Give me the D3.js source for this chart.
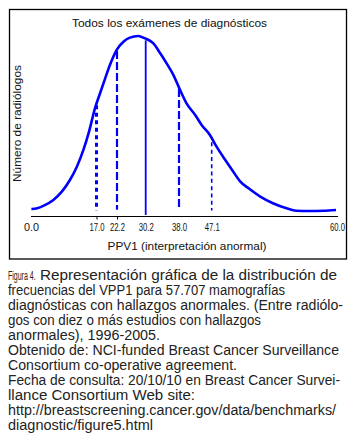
<!DOCTYPE html>
<html><head><meta charset="utf-8">
<script src="https://cdn.jsdelivr.net/npm/d3@7"></script>
<style>body{margin:0;background:#fff} svg{display:block}</style>
</head><body>
<svg id="c" width="355" height="437"></svg>
<script>
// ---- data ----
const ppv   = [0.1, 1.6, 3.2, 5.8, 8.0, 10.1, 11.9, 13.6, 15.1, 16.6, 17.9, 19.2, 20.4, 22.1, 24.0, 25.8, 28.1, 30.0, 32.0, 33.6, 35.1, 36.7, 38.1, 40.1, 42.5, 44.3, 46.6, 47.6, 48.5, 49.2, 50.0, 51.0, 52.1, 53.4, 54.8, 55.8, 57.2, 58.6, 59.9];
const count = [3.9, 4.3, 5.6, 8.9, 13.5, 20.0, 27.4, 36.7, 47.2, 59.8, 68.2, 76.5, 83.9, 92.2, 96.8, 99.1, 100, 98.7, 95.9, 90.4, 84.8, 78.3, 70.9, 62.6, 56.1, 50.6, 45.0, 38.5, 31.1, 25.6, 19.4, 15.0, 10.8, 7.1, 4.3, 2.9, 2.8, 2.9, 3.3];
const percentiles = [17.0, 22.2, 30.2, 38.0, 47.1];
const percentileNames = ["p10", "p25", "p50", "p75", "p90"];
const tickValues = [0.0, 17.0, 22.2, 30.2, 38.0, 47.1, 60.0];
const tickLabels = ["0.0", "17.0", "22.2", "30.2", "38.0", "47.1", "60.0"];
const chartTitle = "Todos los exámenes de diagnósticos";
const xTitle = "PPV1 (interpretación anormal)";
const yTitle = "Número de radiólogos";
const figLabel = "Figura 4.";
const captionLines = [
  "Representación gráfica de la distribución de",
  "frecuencias del VPP1 para 57.707 mamografías",
  "diagnósticas con hallazgos anormales. (Entre radiólo-",
  "gos con diez o más estudios con hallazgos",
  "anormales), 1996-2005.",
  "Obtenido de: NCI-funded Breast Cancer Surveillance",
  "Consortium co-operative agreement.",
  "Fecha de consulta: 20/10/10 en Breast Cancer Survei-",
  "llance Consortium Web site:",
  "http://breastscreening.cancer.gov/data/benchmarks/",
  "diagnostic/figure5.html"
];

// ---- drawing ----
const FONT = "'Liberation Sans', Arial, Helvetica, sans-serif";
const BLUE = "#0000ff";
const svg = d3.select("#c");

// frame
svg.append("rect").attr("x", 9.5).attr("y", 9.5).attr("width", 337).attr("height", 249.5)
  .attr("fill", "none").attr("stroke", "#000").attr("stroke-width", 1.3);

// piecewise axis (the original axis is not linear between labelled percentiles)
const x = d3.scaleLinear().domain(tickValues).range([31, 96.5, 117, 145.7, 179, 211.7, 337]);
const y = d3.scaleLinear().domain([0, 100]).range([216, 36]);

// axis
const axisG = svg.append("g").attr("transform", "translate(0,216.5)")
  .call(d3.axisBottom(x).tickValues(tickValues).tickFormat((d, i) => tickLabels[i])
    .tickSize(3).tickSizeOuter(0).tickPadding(4.5));
axisG.select(".domain").attr("stroke", "#000").attr("stroke-width", 1.2)
  .attr("d", `M${x(0)},0H${x(60) + 1}`);
axisG.selectAll(".tick line").attr("stroke", "#000")
  .attr("stroke-opacity", d => (d === 17.0 || d === 22.2) ? 1 : 0);
axisG.selectAll(".tick text").attr("font-family", FONT).attr("font-size", 10).attr("fill", "#111")
  .attr("textLength", 15).attr("lengthAdjust", "spacingAndGlyphs");

// curve
const pts = ppv.map((v, i) => [v, count[i]]);
svg.append("path").datum(pts)
  .attr("d", d3.line().x(d => x(d[0])).y(d => y(d[1])).curve(d3.curveMonotoneX))
  .attr("fill", "none").attr("stroke", BLUE).attr("stroke-width", 2.6).attr("stroke-linejoin", "round");

// value of the curve at a given ppv (linear interpolation of the data)
function curveAt(v) {
  const i = d3.bisectRight(ppv, v);
  if (i <= 0) return count[0];
  if (i >= ppv.length) return count[count.length - 1];
  const t = (v - ppv[i - 1]) / (ppv[i] - ppv[i - 1]);
  return count[i - 1] + t * (count[i] - count[i - 1]);
}

const lineStyle = {
  p10: { w: 3,   dash: "4,3.5", bottom: 3 },
  p25: { w: 2.2, dash: "8,3",   bottom: 3.5 },
  p50: { w: 1.8, dash: null,    bottom: 0.6 },
  p75: { w: 2.2, dash: "8,3",   bottom: 3.5 },
  p90: { w: 1.6, dash: "4,3.3", bottom: 3 }
};
svg.append("g").selectAll("line").data(percentiles).join("line")
  .attr("x1", d => x(d)).attr("x2", d => x(d))
  .attr("y1", d => y(curveAt(d)) + 1.5)
  .attr("y2", (d, i) => y(lineStyle[percentileNames[i]].bottom))
  .attr("stroke", BLUE)
  .attr("stroke-width", (d, i) => lineStyle[percentileNames[i]].w)
  .attr("stroke-dasharray", (d, i) => lineStyle[percentileNames[i]].dash);

// titles
svg.append("text").attr("x", 169.5).attr("y", 27).attr("text-anchor", "middle")
  .attr("font-family", FONT).attr("font-size", 11).attr("fill", "#111")
  .attr("textLength", 195).attr("lengthAdjust", "spacingAndGlyphs").text(chartTitle);
svg.append("text").attr("x", 187).attr("y", 250).attr("text-anchor", "middle")
  .attr("font-family", FONT).attr("font-size", 11).attr("fill", "#111")
  .attr("textLength", 159).attr("lengthAdjust", "spacingAndGlyphs").text(xTitle);
svg.append("text").attr("transform", "translate(21,123.5) rotate(-90)").attr("text-anchor", "middle")
  .attr("font-family", FONT).attr("font-size", 11).attr("fill", "#111")
  .attr("textLength", 117).attr("lengthAdjust", "spacingAndGlyphs").text(yTitle);

// caption (line widths measured on the reference)
const capWidths = [297, 277, 335, 253, 152, 331, 229, 332, 187, 328, 145];
const capSize = 14, y0 = 280, lh = 15;
svg.append("text").attr("transform", `translate(8,${y0}) scale(0.56,1)`)
  .attr("font-family", FONT).attr("font-size", 12.5).attr("fill", "#222").text(figLabel);
captionLines.forEach((s, i) => svg.append("text")
  .attr("x", i === 0 ? 40 : 8).attr("y", y0 + i * lh)
  .attr("font-family", FONT).attr("font-size", capSize).attr("fill", "#222")
  .attr("textLength", capWidths[i]).attr("lengthAdjust", "spacingAndGlyphs")
  .text(s));
</script>
</body></html>
